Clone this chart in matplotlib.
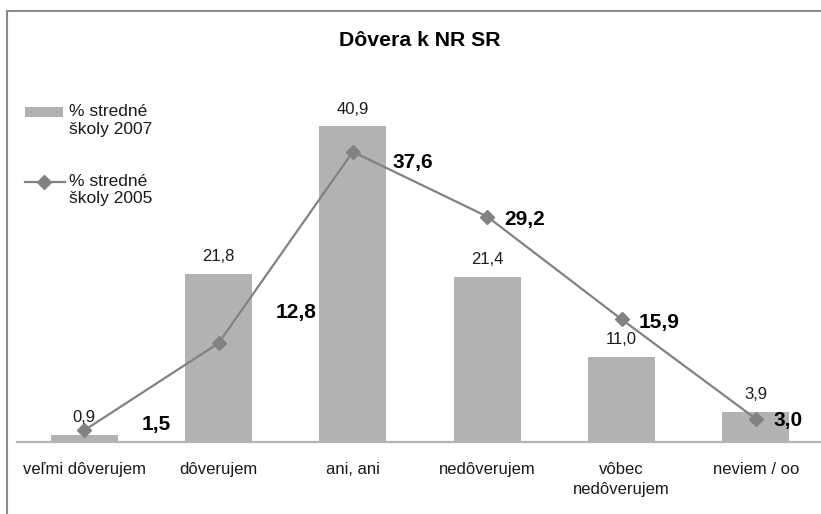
import matplotlib
matplotlib.use("Agg")
import matplotlib.pyplot as plt
from matplotlib.patches import Rectangle
from matplotlib.lines import Line2D

# ---- data ----
categories = ["veľmi dôverujem", "dôverujem", "ani, ani", "nedôverujem",
              "vôbec\nnedôverujem", "neviem / oo"]
values_2007 = [0.9, 21.8, 40.9, 21.4, 11.0, 3.9]
values_2005 = [1.5, 12.8, 37.6, 29.2, 15.9, 3.0]
series_2007 = "% stredné\nškoly 2007"
series_2005 = "% stredné\nškoly 2005"
title = "Dôvera k NR SR"

# ---- style ----
plt.rcParams['font.family'] = ['Liberation Sans', 'DejaVu Sans']
bar_color = "#b2b2b2"
line_color = "#828282"
text_color = "#1a1a1a"
label_offsets_2005 = [(52, 4), (56, 22), (43, -8), (27, -2), (27, -2), (23, -1)]

def fmt(v):
    return f"{v:.1f}".replace(".", ",")

W, H = 821, 514
fig = plt.figure(figsize=(W / 100, H / 100), dpi=100)
ax = fig.add_axes([17 / W, (H - 442) / H, 806 / W, 347.4 / H])

x = list(range(len(categories)))
ax.bar(x, values_2007, width=0.5, color=bar_color, zorder=2)
ax.plot(x, values_2005, color=line_color, lw=1.6, marker="D", ms=7,
        mfc=line_color, mec=line_color, zorder=3)

for xi, v in zip(x, values_2007):
    ax.annotate(fmt(v), (xi, v), xytext=(0, 7), textcoords="offset points",
                ha="center", va="bottom", fontsize=12, color=text_color)
for xi, v, off in zip(x, values_2005, label_offsets_2005):
    ax.annotate(fmt(v), (xi, v), xytext=off, textcoords="offset points",
                ha="center", va="center", fontsize=15, fontweight="bold", color="black")

ax.set_xlim(-0.5, len(categories) - 0.5)
ax.set_ylim(0, 45)
ax.set_xticks(x)
ax.set_xticklabels(categories, fontsize=12, color=text_color, linespacing=1.4)
ax.tick_params(axis="x", length=0, pad=14.5)
ax.set_yticks([])
for s in ["top", "right", "left"]:
    ax.spines[s].set_visible(False)
ax.spines["bottom"].set_color("#b4b4b4")
ax.spines["bottom"].set_linewidth(1.6)
ax.patch.set_visible(False)

fig.text(420 / W, 1 - 41 / H, title, ha="center", va="center",
         fontsize=15.3, fontweight="bold", color="black")

# ---- legend (drawn by hand, in pixel positions) ----
def fx(px):
    return px / W

def fy(py):
    return 1 - py / H

fig.patches.append(Rectangle((fx(25), fy(117)), fx(63) - fx(25), fy(107) - fy(117),
                             transform=fig.transFigure, facecolor=bar_color,
                             edgecolor="none", figure=fig))
fig.text(fx(69), fy(120), series_2007, ha="left", va="center", fontsize=12.5,
         color=text_color, linespacing=1.25)
fig.lines.append(Line2D([fx(25), fx(65)], [fy(182), fy(182)], transform=fig.transFigure,
                        color=line_color, lw=1.6, figure=fig))
fig.lines.append(Line2D([fx(44)], [fy(182)], transform=fig.transFigure, marker="D",
                        ms=7, color=line_color, ls="none", figure=fig))
fig.text(fx(69), fy(190), series_2005, ha="left", va="center", fontsize=12.5,
         color=text_color, linespacing=1.25)

# ---- outer border ----
fig.patches.append(Rectangle((fx(7), -0.2), 1.3, fy(11) + 0.2,
                             transform=fig.transFigure, fill=False,
                             edgecolor="#8c8c8c", lw=1.5, figure=fig))

fig.savefig("out.png", dpi=100)
